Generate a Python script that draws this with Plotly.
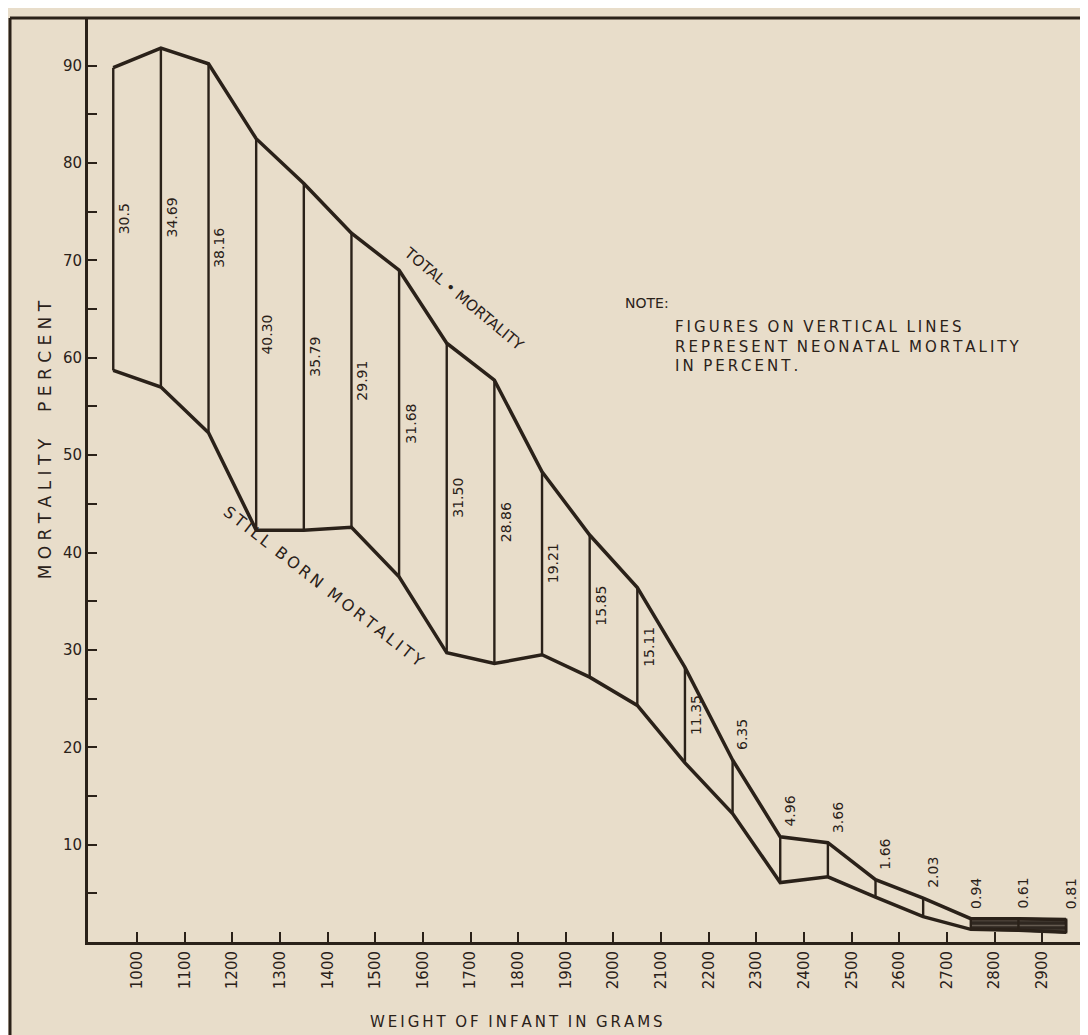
import plotly.graph_objects as go

# ---- data ----
weights = [950, 1050, 1150, 1250, 1350, 1450, 1550, 1650, 1750, 1850, 1950,
           2050, 2150, 2250, 2350, 2450, 2550, 2650, 2750, 2850, 2950]
total_mortality = [89.8, 91.8, 90.2, 82.5, 77.9, 72.8, 69.0, 61.5, 57.7, 48.3, 41.8,
                   36.4, 28.2, 18.7, 10.8, 10.2, 6.4, 4.5, 2.4, 2.4, 2.3]
stillborn_mortality = [58.7, 57.0, 52.3, 42.3, 42.3, 42.6, 37.5, 29.7, 28.6, 29.5, 27.2,
                       24.3, 18.4, 13.2, 6.1, 6.7, 4.6, 2.6, 1.3, 1.2, 1.0]
neonatal_labels = ["30.5", "34.69", "38.16", "40.30", "35.79", "29.91", "31.68", "31.50",
                   "28.86", "19.21", "15.85", "15.11", "11.35", "6.35", "4.96", "3.66",
                   "1.66", "2.03", "0.94", "0.61", "0.81"]
x_ticks = list(range(1000, 3000, 100))
y_ticks = [10, 20, 30, 40, 50, 60, 70, 80, 90]

INK = "#2a2119"
BG = "#e8ddca"
FONT = "DejaVu Sans"
TS = "\u2009"  # thin space used as letter spacing for the hand lettering


def spaced(text, sep=TS, word_sep="  "):
    return word_sep.join(sep.join(word) for word in text.split(" "))


fig = go.Figure()

# hatched band at the heaviest weights
band_start = 18
bx = weights[band_start:] + weights[band_start:][::-1]
by = total_mortality[band_start:] + stillborn_mortality[band_start:][::-1]
fig.add_trace(go.Scatter(x=bx, y=by, mode="lines", fill="toself",
                         fillcolor="#3a3028",
                         fillpattern=dict(shape="-", fgcolor="#9a8e80", bgcolor="#2f2720", size=5, solidity=0.3),
                         line=dict(color=INK, width=2.5), hoverinfo="skip", showlegend=False))

# vertical lines (neonatal mortality)
vx, vy = [], []
for w, t, s in zip(weights, total_mortality, stillborn_mortality):
    vx += [w, w, None]
    vy += [s, t, None]
fig.add_trace(go.Scatter(x=vx, y=vy, mode="lines", line=dict(color=INK, width=2.4),
                         hoverinfo="skip", showlegend=False))

# total and stillborn lines
fig.add_trace(go.Scatter(x=weights, y=total_mortality, mode="lines",
                         line=dict(color=INK, width=3.5), name="Total mortality", showlegend=False))
fig.add_trace(go.Scatter(x=weights, y=stillborn_mortality, mode="lines",
                         line=dict(color=INK, width=3.5), name="Stillborn mortality", showlegend=False))

annotations = []
for i, (w, t, s, lab) in enumerate(zip(weights, total_mortality, stillborn_mortality, neonatal_labels)):
    if t - s > 8:
        annotations.append(dict(x=w, y=(t + s) / 2, text=lab, showarrow=False, textangle=-90,
                                xshift=11, xanchor="center", yanchor="middle",
                                font=dict(family=FONT, size=14, color=INK)))
    else:
        annotations.append(dict(x=w, y=t, text=lab, showarrow=False, textangle=-90,
                                xshift=10 if i < 18 else 5, yshift=8, xanchor="center", yanchor="bottom",
                                font=dict(family=FONT, size=14, color=INK)))

annotations += [
    dict(x=1686, y=66.0, text="TOTAL • MORTALITY", showarrow=False, textangle=40,
         font=dict(family=FONT, size=15, color=INK)),
    dict(x=1392, y=36.5, text=spaced("STILL BORN MORTALITY", word_sep="  "), showarrow=False, textangle=38,
         font=dict(family=FONT, size=16, color=INK)),
    dict(x=2020, y=65.6, text="NOTE:", showarrow=False, xanchor="left", yanchor="middle",
         font=dict(family=FONT, size=14, color=INK)),
    dict(x=2125, y=64.3,
         text="<br>".join(spaced(s) for s in ["FIGURES ON VERTICAL LINES",
                                              "REPRESENT NEONATAL MORTALITY",
                                              "IN PERCENT."]),
         showarrow=False, xanchor="left", yanchor="top", align="left",
         font=dict(family=FONT, size=15, color=INK)),
    dict(xref="paper", yref="paper", x=-0.043, y=0.543, xanchor="center", yanchor="middle",
         text=spaced("MORTALITY PERCENT", sep=" ", word_sep="     "),
         showarrow=False, textangle=-90, font=dict(family=FONT, size=17, color=INK)),
    dict(xref="paper", yref="paper", x=0.428, y=-0.087, xanchor="center", yanchor="middle",
         text=spaced("WEIGHT OF INFANT IN GRAMS"),
         showarrow=False, font=dict(family=FONT, size=15, color=INK)),
]

shapes = [
    dict(type="line", xref="paper", yref="paper", x0=-0.078, x1=1.0, y0=1.0, y1=1.0,
         line=dict(color=INK, width=3)),
    dict(type="line", xref="paper", yref="paper", x0=-0.078, x1=-0.078, y0=1.0, y1=-0.11,
         line=dict(color=INK, width=3)),
]

fig.update_layout(
    width=1080, height=1027,
    margin=dict(l=80, r=0, t=10, b=93),
    paper_bgcolor=BG, plot_bgcolor=BG,
    annotations=annotations, shapes=shapes,
    showlegend=False,
    xaxis=dict(range=[897, 2996], tickvals=x_ticks, ticktext=[str(v) for v in x_ticks],
               tickangle=-90, ticks="inside", ticklen=10, tickwidth=1.5, tickcolor=INK,
               showline=True, linecolor=INK, linewidth=3, showgrid=False, zeroline=False,
               tickfont=dict(family=FONT, size=15, color=INK)),
    yaxis=dict(range=[0, 94.9], tickvals=y_ticks, ticktext=[str(v) for v in y_ticks],
               ticks="inside", ticklen=9, tickwidth=1.5, tickcolor=INK,
               minor=dict(dtick=5, ticks="inside", ticklen=9, tickwidth=1.5, tickcolor=INK, tick0=5),
               showline=True, linecolor=INK, linewidth=3, showgrid=False, zeroline=False,
               tickfont=dict(family=FONT, size=15, color=INK)),
)

fig.write_html("out.html")
